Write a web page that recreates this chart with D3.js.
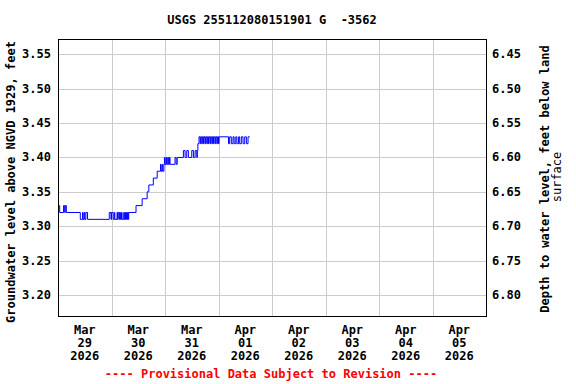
<!DOCTYPE html>
<html>
<head>
<meta charset="utf-8">
<script src="https://cdn.jsdelivr.net/npm/d3@7"></script>
<style>
  body { margin: 0; background: #fff; }
  svg text { font-family: "DejaVu Sans Mono", monospace; font-weight: bold; white-space: pre; }
</style>
</head>
<body>
<svg id="canvas"></svg>
<script>
var w = 576;
var h = 384;
var plotL = 58, plotR = 486, plotT = 39, plotB = 316;
var fs = '12px';

var title = 'USGS 255112080151901 G  -3562';
var leftLabel = 'Groundwater level above NGVD 1929, feet';
var rightLabel = ['Depth to water level, feet below land', 'surface'];
var footer = '---- Provisional Data Subject to Revision ----';

var startDay = Date.UTC(2026, 2, 29);
var endDay = Date.UTC(2026, 3, 6);
var levelTicks = [3.20, 3.25, 3.30, 3.35, 3.40, 3.45, 3.50, 3.55];
var depthTicks = [6.45, 6.50, 6.55, 6.60, 6.65, 6.70, 6.75, 6.80];
var landSurface = 10.0;
var dayLabels = [
  ['Mar', '29', '2026'], ['Mar', '30', '2026'], ['Mar', '31', '2026'],
  ['Apr', '01', '2026'], ['Apr', '02', '2026'], ['Apr', '03', '2026'],
  ['Apr', '04', '2026'], ['Apr', '05', '2026']
];

// [hours since Mar 29 00:00, level] - value changes only
var readings = [
  [0, 3.33], [0.75, 3.32], [2.5, 3.33], [3, 3.32], [3.25, 3.33], [3.75, 3.32],
  [10, 3.31], [11, 3.32], [11.25, 3.31], [11.75, 3.32], [12, 3.31], [12.5, 3.32], [13.25, 3.31],
  [23, 3.32], [23.75, 3.31], [24, 3.32], [24.75, 3.31], [25.25, 3.32], [25.5, 3.31],
  [26.5, 3.32], [26.75, 3.31], [27, 3.32], [27.5, 3.31], [27.75, 3.32], [28, 3.31],
  [28.5, 3.32], [28.75, 3.31], [29.5, 3.32], [29.75, 3.31], [30, 3.32], [30.25, 3.31],
  [30.75, 3.32], [31, 3.31], [31.25, 3.32], [31.5, 3.31], [31.75, 3.32],
  [35, 3.33], [37.75, 3.34], [40, 3.35], [40.75, 3.36], [42.75, 3.37], [44.5, 3.38],
  [46, 3.39], [46.25, 3.38], [46.75, 3.39], [47, 3.38], [47.5, 3.39], [47.75, 3.40],
  [48, 3.39], [48.5, 3.40], [48.75, 3.39], [49.25, 3.40], [49.5, 3.39], [50, 3.40],
  [50.25, 3.39], [52.5, 3.40], [53, 3.39], [53.5, 3.40],
  [56.25, 3.41], [57, 3.40], [57.75, 3.41], [58.5, 3.40], [60, 3.41], [60.75, 3.40],
  [61.5, 3.41], [62.25, 3.40], [62.5, 3.41], [62.75, 3.42],
  [63.25, 3.43], [63.75, 3.42], [64, 3.43], [64.5, 3.42], [64.75, 3.43], [65.25, 3.42],
  [65.5, 3.43], [66, 3.42], [66.25, 3.43], [66.75, 3.42], [67, 3.43], [67.5, 3.42],
  [67.75, 3.43], [68.25, 3.42], [68.5, 3.43], [69, 3.42], [69.25, 3.43], [69.75, 3.42],
  [70, 3.43], [70.5, 3.42], [70.75, 3.43], [71.25, 3.42], [71.5, 3.43], [72, 3.42],
  [72.25, 3.43],
  [76.5, 3.42], [77, 3.43], [77.75, 3.42], [78.5, 3.43], [79, 3.42], [79.75, 3.43],
  [80.25, 3.42], [81, 3.43], [81.5, 3.42], [82.25, 3.43], [83, 3.42], [83.75, 3.43],
  [84.5, 3.42], [85.25, 3.43], [86, 3.43]
];

var svg = d3.select('#canvas')
  .attr('width', w)
  .attr('height', h)
  .attr('viewBox', [0, 0, w, h]);

var x = d3.scaleUtc()
  .domain([new Date(startDay), new Date(endDay)])
  .range([plotL, plotR]);
var y = d3.scaleLinear()
  .domain([3.1695, 3.5722])
  .range([plotB, plotT]);
var yDepth = d3.scaleLinear()
  .domain([landSurface - 3.1695, landSurface - 3.5722])
  .range([plotB, plotT]);

var days = d3.utcDay.range(new Date(startDay), new Date(endDay));

// grid
var grid = svg.append('g').attr('stroke', '#cccccc').attr('stroke-width', 1);
grid.selectAll('.vg')
  .data(days.slice(1))
  .enter()
  .append('line')
  .attr('x1', d => Math.round(x(d)) + 0.5)
  .attr('x2', d => Math.round(x(d)) + 0.5)
  .attr('y1', plotT)
  .attr('y2', plotB);
grid.selectAll('.hg')
  .data(levelTicks)
  .enter()
  .append('line')
  .attr('x1', plotL)
  .attr('x2', plotR)
  .attr('y1', d => Math.round(y(d)) + 0.5)
  .attr('y2', d => Math.round(y(d)) + 0.5);

// data
var line = d3.line()
  .x(d => x(new Date(startDay + d[0] * 3600000)))
  .y(d => y(d[1]))
  .curve(d3.curveStepAfter);
svg.append('path')
  .datum(readings)
  .attr('d', line)
  .attr('fill', 'none')
  .attr('stroke', '#0000ff')
  .attr('stroke-width', 1);

// frame
svg.append('rect')
  .attr('x', plotL + 0.5)
  .attr('y', plotT + 0.5)
  .attr('width', plotR - plotL)
  .attr('height', plotB - plotT)
  .attr('fill', 'none')
  .attr('stroke', '#000');

// left ticks
svg.selectAll('.yl')
  .data(levelTicks)
  .enter()
  .append('text')
  .attr('x', 51)
  .attr('y', d => y(d) + 4)
  .attr('text-anchor', 'end')
  .style('font-size', fs)
  .text(d => d.toFixed(2));

// right ticks
svg.selectAll('.yr')
  .data(depthTicks)
  .enter()
  .append('text')
  .attr('x', 492)
  .attr('y', d => yDepth(d) + 4)
  .attr('text-anchor', 'start')
  .style('font-size', fs)
  .text(d => d.toFixed(2));

// x labels at noon
var xl = svg.selectAll('.xl')
  .data(days)
  .enter()
  .append('text')
  .attr('text-anchor', 'middle')
  .style('font-size', fs);
[0, 1, 2].forEach(function(i) {
  xl.append('tspan')
    .attr('x', d => x(d3.utcHour.offset(d, 12)))
    .attr('y', 334 + i * 13)
    .text((d, j) => dayLabels[j][i]);
});

svg.append('text')
  .attr('x', 272)
  .attr('y', 24)
  .attr('text-anchor', 'middle')
  .style('font-size', fs)
  .text(title);

svg.append('text')
  .attr('transform', 'translate(15,182) rotate(-90)')
  .attr('text-anchor', 'middle')
  .style('font-size', fs)
  .text(leftLabel);

svg.append('text')
  .attr('transform', 'translate(549,179) rotate(-90)')
  .attr('text-anchor', 'middle')
  .style('font-size', fs)
  .text(rightLabel[0]);
svg.append('text')
  .attr('transform', 'translate(561,177) rotate(-90)')
  .attr('text-anchor', 'middle')
  .style('font-size', fs)
  .style('font-weight', 'normal')
  .text(rightLabel[1]);

svg.append('text')
  .attr('x', 271)
  .attr('y', 378)
  .attr('text-anchor', 'middle')
  .attr('fill', '#ff0000')
  .style('font-size', fs)
  .text(footer);
</script>
</body>
</html>
